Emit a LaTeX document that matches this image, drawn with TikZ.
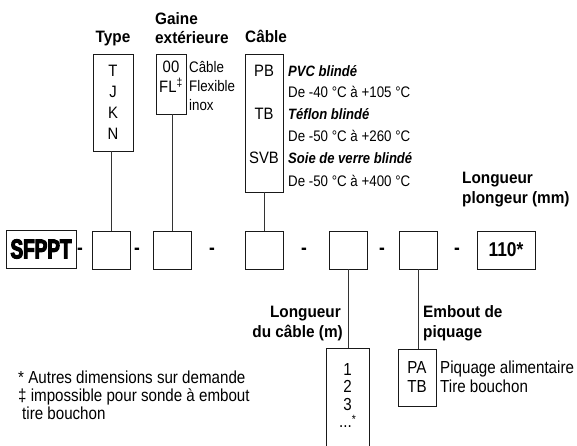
\documentclass[tikz,border=0pt]{standalone}
\usepackage{fontspec}
\setmainfont[FakeStretch=0.87]{Liberation Sans}
\newfontfamily\labfont[FakeStretch=0.93]{Liberation Sans}
\newfontfamily\boxfont[FakeStretch=0.9]{Liberation Sans}
\newfontfamily\sfpptfont[FakeStretch=0.70,FakeBold=4]{Liberation Sans}
\begin{document}
\begin{tikzpicture}[x=1pt,y=-1pt,
  box/.style={draw=black!90,line width=0.9pt,inner sep=0pt,minimum width=38pt,minimum height=38pt},
  link/.style={draw=black!80,line width=0.9pt},
  txt/.style={inner sep=0pt,anchor=base,font=\fontsize{15.3}{18}\selectfont},
  txtl/.style={txt,anchor=base west},
  bigtxt/.style={inner sep=0pt,anchor=base west,font=\fontsize{17.4}{20}\selectfont},
  item/.style={inner sep=0pt,anchor=base,font=\boxfont\fontsize{16.5}{19}\selectfont},
  bitem/.style={inner sep=0pt,anchor=base,font=\fontsize{17.4}{20}\selectfont},
  lab/.style={inner sep=0pt,anchor=base west,font=\labfont\fontsize{16.5}{19}\selectfont\bfseries},
  sep/.style={inner sep=0pt,anchor=center,font=\fontsize{20}{20}\selectfont\bfseries}
]
\useasboundingbox (0,0) rectangle (577,446);
\clip (0,0) rectangle (577,446);
% top boxes
\node[box,minimum width=40pt,minimum height=97pt] (typebox) at (113,102.5) {};
\node[box,minimum width=30pt,minimum height=60pt] (gainebox) at (171,84) {};
\node[box,minimum width=38pt,minimum height=138pt] (cablebox) at (264,123) {};
% main row
\node[box,minimum width=70pt,minimum height=38pt] (sfppt) at (41,249) {\sfpptfont\bfseries\fontsize{27}{27}\selectfont SFPPT};
\node[box] (b1) at (111,250) {};
\node[box] (b2) at (172,250) {};
\node[box] (b3) at (264,250) {};
\node[box] (b4) at (348,250) {};
\node[box] (b5) at (418.5,250) {};
\node[box,minimum width=58pt] (b6) at (506,250) {\fontsize{20}{20}\selectfont\bfseries 110*};
\node[sep] (d1) at (80,251) {-};
\node[sep] (d2) at (137,251) {-};
\node[sep] (d3) at (212,251) {-};
\node[sep] (d4) at (304,251) {-};
\node[sep] (d5) at (382,251) {-};
\node[sep] (d6) at (457,251) {-};
% bottom boxes
\node[box,minimum width=43pt,minimum height=110pt] (lenbox) at (347.5,403) {};
\node[box,minimum width=38pt,minimum height=57pt] (pabox) at (417,377.5) {};
% connectors
\draw[link] (typebox.south -| b1.north) -- (b1.north);
\draw[link] (gainebox.south -| b2.north) -- (b2.north);
\draw[link] (cablebox.south) -- (b3.north);
\draw[link] (b4.south) -- (lenbox.north -| b4.south);
\draw[link] (b5.south) -- (pabox.north -| b5.south);
% labels
\node[lab,anchor=base] (ltype) at (113,43) {Type};
\node[lab] (lgaine1) at (155,25) {Gaine};
\node[lab] (lgaine2) at (155,44) {extérieure};
\node[lab] (lcable) at (245,43) {Câble};
\node[lab] (lplong1) at (462,184) {Longueur};
\node[lab] (lplong2) at (462,204) {plongeur (mm)};
\node[lab,anchor=base east] (llong1) at (341,317) {Longueur};
\node[lab,anchor=base east] (llong2) at (343,337) {du câble (m)};
\node[lab] (lemb1) at (423,317) {Embout de};
\node[lab] (lemb2) at (423,337) {piquage};
% type box items
\node[item] (tT) at (113,77) {T};
\node[item] (tJ) at (113,98) {J};
\node[item] (tK) at (113,119) {K};
\node[item] (tN) at (113,140) {N};
% gaine items
\node[item] (g00) at (171,73) {00};
\node[item] (gFL) at (171,93) {FL\textsuperscript{‡}};
\node[txtl] (gd1) at (189,73) {Câble};
\node[txtl] (gd2) at (189,92) {Flexible};
\node[txtl] (gd3) at (189,111) {inox};
% cable items
\node[item] (cPB) at (264,77) {PB};
\node[item] (cTB) at (264,120) {TB};
\node[item] (cSVB) at (264,164) {SVB};
\node[txtl,font=\fontsize{15}{18}\selectfont\bfseries\itshape] (cd1) at (288,77) {PVC blindé};
\node[txtl] (cd2) at (288,98) {De -40 °C à +105 °C};
\node[txtl,font=\fontsize{15}{18}\selectfont\bfseries\itshape] (cd3) at (288,120) {Téflon blindé};
\node[txtl] (cd4) at (288,142) {De -50 °C à +260 °C};
\node[txtl,font=\fontsize{15}{18}\selectfont\bfseries\itshape] (cd5) at (288,164) {Soie de verre blindé};
\node[txtl] (cd6) at (288,186) {De -50 °C à +400 °C};
% length items
\node[bitem] (l1) at (347.5,375) {1};
\node[bitem] (l2) at (347.5,392.5) {2};
\node[bitem] (l3) at (347.5,410) {3};
\node[bitem] (l4) at (347.5,427) {...\raisebox{3.5pt}{\fontsize{12}{12}\selectfont *}};
% embout items
\node[bitem] (pPA) at (417,373) {PA};
\node[bitem] (pTB) at (417,392) {TB};
\node[bigtxt] (pd1) at (440,373) {Piquage alimentaire};
\node[bigtxt] (pd2) at (440,392) {Tire bouchon};
% footnotes
\node[bigtxt] (f1) at (18,383) {* Autres dimensions sur demande};
\node[bigtxt] (f2) at (18,401) {‡ impossible pour sonde à embout};
\node[bigtxt] (f3) at (22,419) {tire bouchon};
\end{tikzpicture}
\end{document}
